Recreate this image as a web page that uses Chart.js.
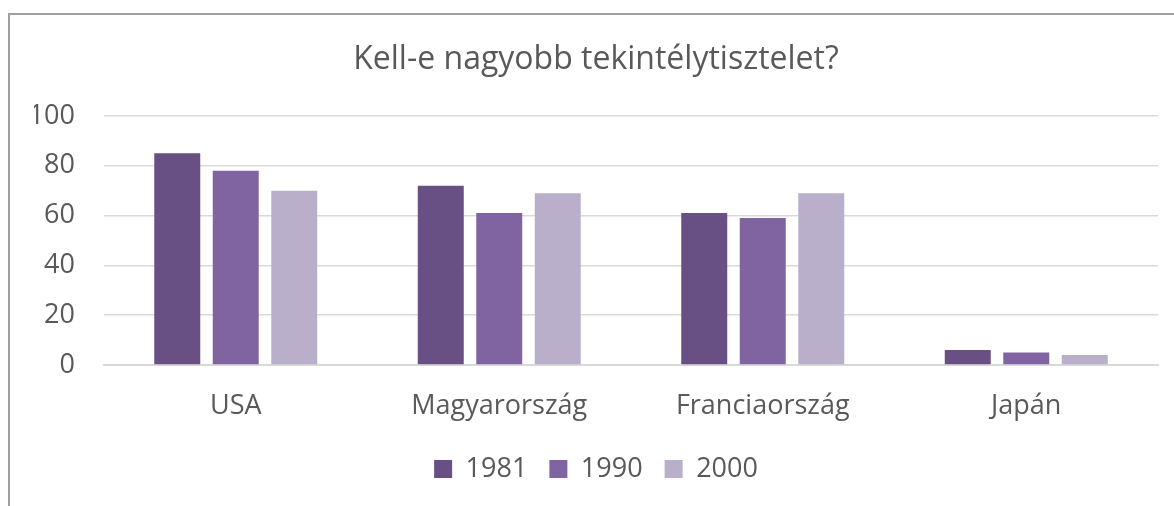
<!DOCTYPE html>
<html>
<head>
<meta charset="utf-8">
<script src="https://cdn.jsdelivr.net/npm/chart.js@4/dist/chart.umd.min.js"></script>
<style>
  html, body { margin: 0; padding: 0; background: #fff; overflow: hidden; }
  #frame { position: absolute; left: 8px; top: 13px; width: 1300px; height: 700px; border: 2px solid #a0a0a0; }
  #wrap { position: absolute; left: 0; top: 0; width: 1174px; height: 506px; }
</style>
</head>
<body>
<div id="frame"></div>
<div id="wrap"><canvas id="chart"></canvas></div>
<script>
// chart data
const categories = ['USA', 'Magyarország', 'Franciaország', 'Japán'];
const years      = ['1981', '1990', '2000'];
const v1981      = [85, 72, 61, 6];
const v1990      = [78, 61, 59, 5];
const v2000      = [70, 69, 69, 4];
const yTicks     = [0, 20, 40, 60, 80, 100];

const COLORS = ['#684f84', '#8064a2', '#b9afcb'];
const TEXT   = '#595959';
const FONT   = "'Open Sans', sans-serif";

const ctx = document.getElementById('chart').getContext('2d');
new Chart(ctx, {
  type: 'bar',
  data: {
    labels: categories,
    datasets: [v1981, v1990, v2000].map((d, i) => ({
      label: years[i], data: d, backgroundColor: COLORS[i], borderWidth: 0,
      categoryPercentage: 0.666, barPercentage: 0.786,
    })),
  },
  options: {
    responsive: true, maintainAspectRatio: false, animation: false,
    layout: { padding: { left: 34, right: 16, top: 0, bottom: 13.5 } },
    plugins: {
      title: {
        display: true, text: 'Kell-e nagyobb tekintélytisztelet?', color: TEXT,
        font: { family: FONT, size: 32, weight: 'normal' }, padding: { top: 41, bottom: 36.6 },
      },
      legend: {
        position: 'bottom',
        labels: { color: TEXT, font: { family: FONT, size: 27 }, boxWidth: 18, boxHeight: 18, padding: 22 },
      },
      tooltip: { enabled: false },
    },
    scales: {
      x: {
        grid: { display: false, drawTicks: false },
        border: { color: '#d9d9d9', width: 2 },
        ticks: { color: TEXT, font: { family: FONT, size: 27 }, padding: 25 },
        afterFit: s => { s.height = 68.5; },
      },
      y: {
        min: 0, max: 100,
        afterBuildTicks: s => { s.ticks = yTicks.map(v => ({ value: v })); },
        grid: { color: '#d9d9d9', lineWidth: 1.5, drawTicks: false },
        border: { display: false },
        ticks: { color: TEXT, font: { family: FONT, size: 27 }, padding: 29 },
        afterFit: s => { s.width = 70; },
      },
    },
  },
});
</script>
</body>
</html>
